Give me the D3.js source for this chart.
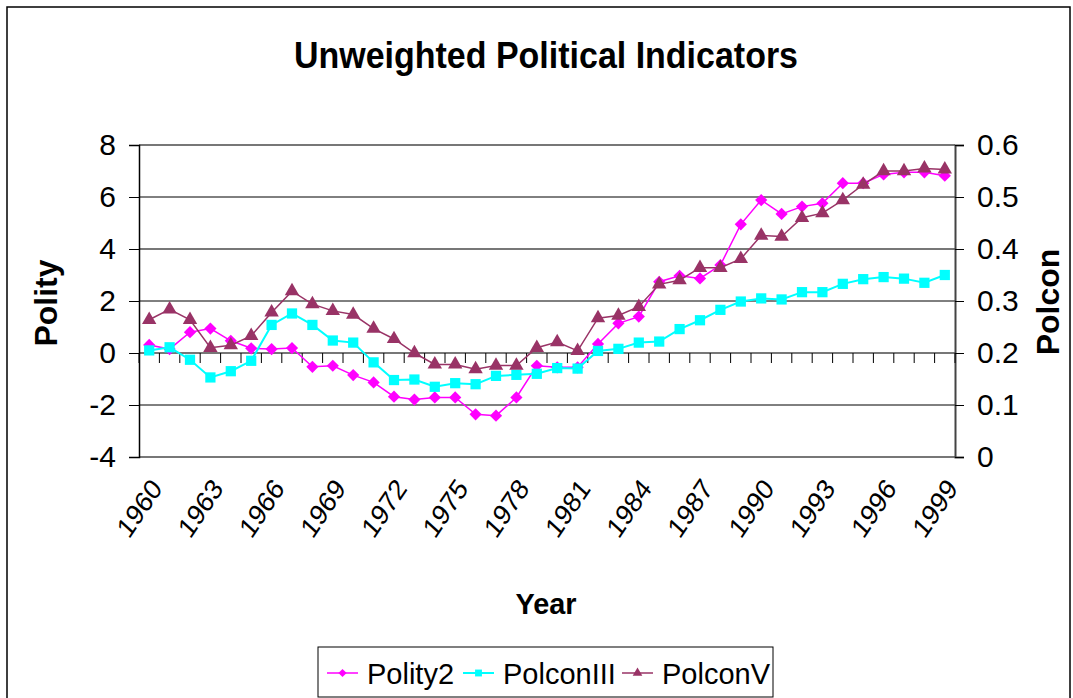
<!DOCTYPE html>
<html>
<head>
<meta charset="utf-8">
<script src="https://cdn.jsdelivr.net/npm/d3@7"></script>
<style>
  body { margin: 0; background: #fff; }
  svg { display: block; font-family: "Liberation Sans", Arial, sans-serif; }
</style>
</head>
<body>
<svg id="chart" width="1073" height="698"></svg>
<script>
// categorias (años)
const years = [1960, 1961, 1962, 1963, 1964, 1965, 1966, 1967, 1968, 1969,
               1970, 1971, 1972, 1973, 1974, 1975, 1976, 1977, 1978, 1979,
               1980, 1981, 1982, 1983, 1984, 1985, 1986, 1987, 1988, 1989,
               1990, 1991, 1992, 1993, 1994, 1995, 1996, 1997, 1998, 1999];
const yearLabels = [1960, 1963, 1966, 1969, 1972, 1975, 1978, 1981, 1984, 1987, 1990, 1993, 1996, 1999];

// series
const polity2 = [0.31, 0.15, 0.8, 0.94, 0.47, 0.18, 0.15, 0.19, -0.53, -0.49,
                 -0.85, -1.13, -1.68, -1.79, -1.71, -1.71, -2.36, -2.41, -1.71, -0.49,
                 -0.55, -0.55, 0.35, 1.14, 1.4, 2.74, 2.97, 2.87, 3.38, 4.95,
                 5.88, 5.35, 5.63, 5.76, 6.53, 6.53, 6.87, 6.95, 6.95, 6.82];
const polconIII = [0.205, 0.211, 0.187, 0.153, 0.165, 0.185, 0.254, 0.276, 0.254, 0.224,
                   0.220, 0.182, 0.148, 0.149, 0.135, 0.142, 0.140, 0.156, 0.158, 0.160,
                   0.171, 0.170, 0.204, 0.208, 0.220, 0.222, 0.246, 0.263, 0.283, 0.299,
                   0.305, 0.303, 0.317, 0.317, 0.333, 0.342, 0.346, 0.343, 0.335, 0.350];
const polconV = [0.264, 0.284, 0.264, 0.210, 0.215, 0.233, 0.278, 0.319, 0.294, 0.281,
                 0.274, 0.247, 0.227, 0.200, 0.178, 0.178, 0.169, 0.176, 0.176, 0.210,
                 0.221, 0.204, 0.267, 0.272, 0.289, 0.332, 0.340, 0.364, 0.364, 0.381,
                 0.426, 0.424, 0.460, 0.469, 0.494, 0.524, 0.550, 0.550, 0.555, 0.553];

// ticks de los ejes
const leftTicks = [-4, -2, 0, 2, 4, 6, 8];
const rightTicks = [0, 0.1, 0.2, 0.3, 0.4, 0.5, 0.6];

// dimensiones del área de trazado
const plot = { left: 139, right: 955, top: 145, bottom: 457 };

const svg = d3.select("#chart");

// borde exterior del gráfico
svg.append("rect")
    .attr("x", 7).attr("y", 7)
    .attr("width", 1063).attr("height", 760)
    .attr("fill", "none")
    .attr("stroke", "#000")
    .attr("stroke-width", 1.5);

// escalas
const x = d3.scaleBand()
    .domain(years)
    .range([plot.left, plot.right])
    .padding(0);

const yL = d3.scaleLinear().domain([-4, 8]).range([plot.bottom, plot.top]);
const yR = d3.scaleLinear().domain([0, 0.6]).range([plot.bottom, plot.top]);

const cx = d => x(d) + x.bandwidth() / 2;

// líneas de cuadrícula
svg.append("g")
  .selectAll("line")
  .data(leftTicks)
  .join("line")
    .attr("x1", plot.left)
    .attr("x2", plot.right)
    .attr("y1", d => yL(d))
    .attr("y2", d => yL(d))
    .attr("stroke", d => (d % 4 === 0) ? "#777" : "#000")
    .attr("stroke-width", d => (d % 4 === 0) ? 2 : 1);

// eje izquierdo
const axisL = svg.append("g")
    .attr("transform", `translate(${plot.left},0)`)
    .call(d3.axisLeft(yL).tickValues(leftTicks).tickSize(10).tickPadding(13).tickFormat(d => String(d)));
axisL.select(".domain").attr("stroke", "#000").attr("stroke-width", 1.5);
axisL.selectAll(".tick line").attr("stroke", "#000");
axisL.selectAll("text")
    .attr("font-size", 30)
    .attr("font-family", "Liberation Sans, Arial, sans-serif")
    .attr("fill", "#000");

// eje derecho
const axisR = svg.append("g")
    .attr("transform", `translate(${plot.right},0)`)
    .call(d3.axisRight(yR).tickValues(rightTicks).tickSize(9).tickPadding(13).tickFormat(d => d === 0 ? "0" : d3.format(".1f")(d)));
axisR.select(".domain").attr("stroke", "#444").attr("stroke-width", 2);
axisR.selectAll(".tick line").attr("stroke", "#000");
axisR.selectAll("text")
    .attr("font-size", 30)
    .attr("font-family", "Liberation Sans, Arial, sans-serif")
    .attr("fill", "#000");

// eje de categorías (cruza en 0)
const zeroY = yL(0);
const bounds = years.map(d => x(d)).concat([plot.right]);
svg.append("g")
  .selectAll("line")
  .data(bounds)
  .join("line")
    .attr("x1", d => d).attr("x2", d => d)
    .attr("y1", zeroY).attr("y2", zeroY + 10)
    .attr("stroke", "#000")
    .attr("stroke-width", 1);

// etiquetas de años (abajo, rotadas y algo comprimidas)
svg.append("g")
  .selectAll("text")
  .data(yearLabels)
  .join("text")
    .attr("transform", d => `translate(${cx(d) + 14},${plot.bottom + 32}) scale(0.86,1) rotate(-52)`)
    .attr("text-anchor", "end")
    .attr("font-size", 29)
    .text(d => d);

// series
const series = [
  { name: "Polity2", values: polity2, y: yL, color: "#FF00FF", symbol: d3.symbolDiamond2, size: 95, width: 1.5 },
  { name: "PolconIII", values: polconIII, y: yR, color: "#00FFFF", symbol: d3.symbolSquare, size: 105, width: 2 },
  { name: "PolconV", values: polconV, y: yR, color: "#993366", symbol: d3.symbolTriangle, size: 90, width: 1.5 }
];

series.forEach(s => {
  const line = d3.line()
      .x((d, i) => cx(years[i]))
      .y(d => s.y(d));

  svg.append("path")
      .datum(s.values)
      .attr("fill", "none")
      .attr("stroke", s.color)
      .attr("stroke-width", s.width)
      .attr("d", line);

  svg.append("g")
    .selectAll("path")
    .data(s.values)
    .join("path")
      .attr("transform", (d, i) => `translate(${cx(years[i])},${s.y(d)})`)
      .attr("d", d3.symbol().type(s.symbol).size(s.size))
      .attr("fill", s.color);
});

// títulos
svg.append("text")
    .attr("x", 546).attr("y", 68)
    .attr("text-anchor", "middle")
    .attr("font-size", 36)
    .attr("font-weight", "bold")
    .attr("textLength", 504)
    .attr("lengthAdjust", "spacingAndGlyphs")
    .text("Unweighted Political Indicators");

svg.append("text")
    .attr("transform", "translate(57,303) rotate(-90)")
    .attr("text-anchor", "middle")
    .attr("font-size", 32)
    .attr("font-weight", "bold")
    .text("Polity");

svg.append("text")
    .attr("transform", "translate(1059,302) rotate(-90)")
    .attr("text-anchor", "middle")
    .attr("font-size", 32)
    .attr("font-weight", "bold")
    .text("Polcon");

svg.append("text")
    .attr("x", 546).attr("y", 614)
    .attr("text-anchor", "middle")
    .attr("font-size", 30)
    .attr("font-weight", "bold")
    .attr("textLength", 61)
    .attr("lengthAdjust", "spacingAndGlyphs")
    .text("Year");

// leyenda
const legend = svg.append("g");
legend.append("rect")
    .attr("x", 318).attr("y", 647)
    .attr("width", 455).attr("height", 50)
    .attr("fill", "#fff")
    .attr("stroke", "#000")
    .attr("stroke-width", 1);

const legendX = [327, 463, 622];
series.forEach((s, i) => {
  const g = legend.append("g").attr("transform", `translate(${legendX[i]},673)`);
  g.append("line")
      .attr("x1", 0).attr("x2", 31)
      .attr("stroke", s.color)
      .attr("stroke-width", s.width);
  g.append("path")
      .attr("transform", "translate(15.5,0)")
      .attr("d", d3.symbol().type(s.symbol).size(s.size * 0.45))
      .attr("fill", s.color);
  g.append("text")
      .attr("x", 40).attr("y", 11)
      .attr("font-size", 29)
      .text(s.name);
});
</script>
</body>
</html>
